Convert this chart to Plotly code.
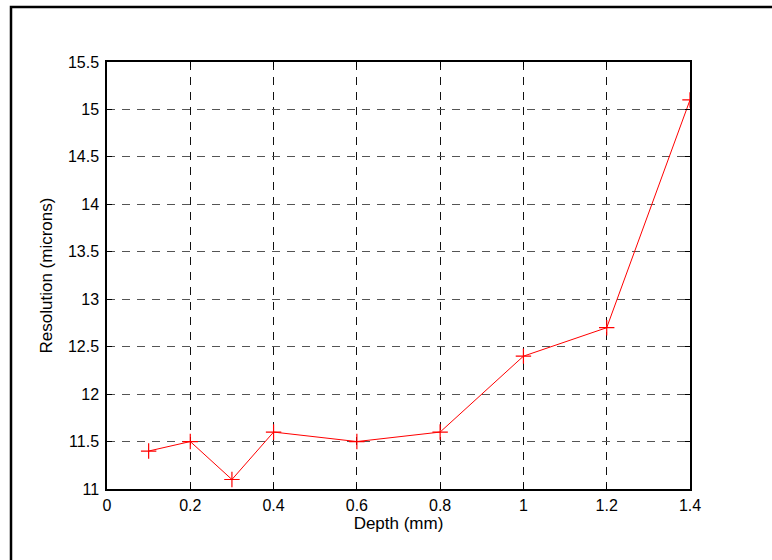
import plotly.graph_objects as go

depth = [0.1, 0.2, 0.3, 0.4, 0.6, 0.8, 1.0, 1.2, 1.4]
resolution = [11.4, 11.5, 11.1, 11.6, 11.5, 11.6, 12.4, 12.7, 15.1]

x_ticks = [0, 0.2, 0.4, 0.6, 0.8, 1.0, 1.2, 1.4]
x_ticktext = ["0", "0.2", "0.4", "0.6", "0.8", "1", "1.2", "1.4"]
y_ticks = [11, 11.5, 12, 12.5, 13, 13.5, 14, 14.5, 15, 15.5]
y_ticktext = ["11", "11.5", "12", "12.5", "13", "13.5", "14", "14.5", "15", "15.5"]

FONT = "Liberation Sans, Arial, sans-serif"
FS = 16
TFS = 17

fig = go.Figure()
fig.add_trace(go.Scatter(
    x=depth, y=resolution, mode="lines+markers",
    line=dict(color="#ff0000", width=1),
    marker=dict(symbol="cross-thin", size=11, line=dict(color="#ff0000", width=1.2)),
    showlegend=False,
))

axis_common = dict(
    showline=True, linecolor="black", linewidth=1.5, mirror="ticks",
    ticks="inside", ticklen=5, tickcolor="black", tickwidth=1,
    showgrid=True, gridwidth=1, griddash="8px,7px",
    zeroline=False,
    tickfont=dict(family=FONT, size=FS, color="black"),
)

fig.update_xaxes(range=[0, 1.4], tickmode="array", tickvals=x_ticks, ticktext=x_ticktext,
                 ticklabelstandoff=1, gridcolor="#111111",
                 title=dict(text="Depth (mm)", standoff=2,
                            font=dict(family=FONT, size=TFS, color="black")),
                 **axis_common)
fig.update_yaxes(range=[11, 15.5], tickmode="array", tickvals=y_ticks, ticktext=y_ticktext,
                 ticklabelstandoff=3, gridcolor="#555555",
                 title=dict(text="Resolution (microns)", standoff=11,
                            font=dict(family=FONT, size=TFS, color="black")),
                 **axis_common)

fig.add_shape(type="rect", xref="paper", yref="paper",
              x0=(11 - 107) / 583, x1=(776 - 107) / 583,
              y0=(489 - 565) / 427, y1=(489 - 7) / 427,
              line=dict(color="black", width=2.5), fillcolor="rgba(0,0,0,0)", layer="below")

fig.update_layout(
    width=772, height=560,
    margin=dict(l=107, r=82, t=62, b=71),
    paper_bgcolor="white", plot_bgcolor="white",
    font=dict(family=FONT, size=FS, color="black"),
)

fig.write_html("out.html")
